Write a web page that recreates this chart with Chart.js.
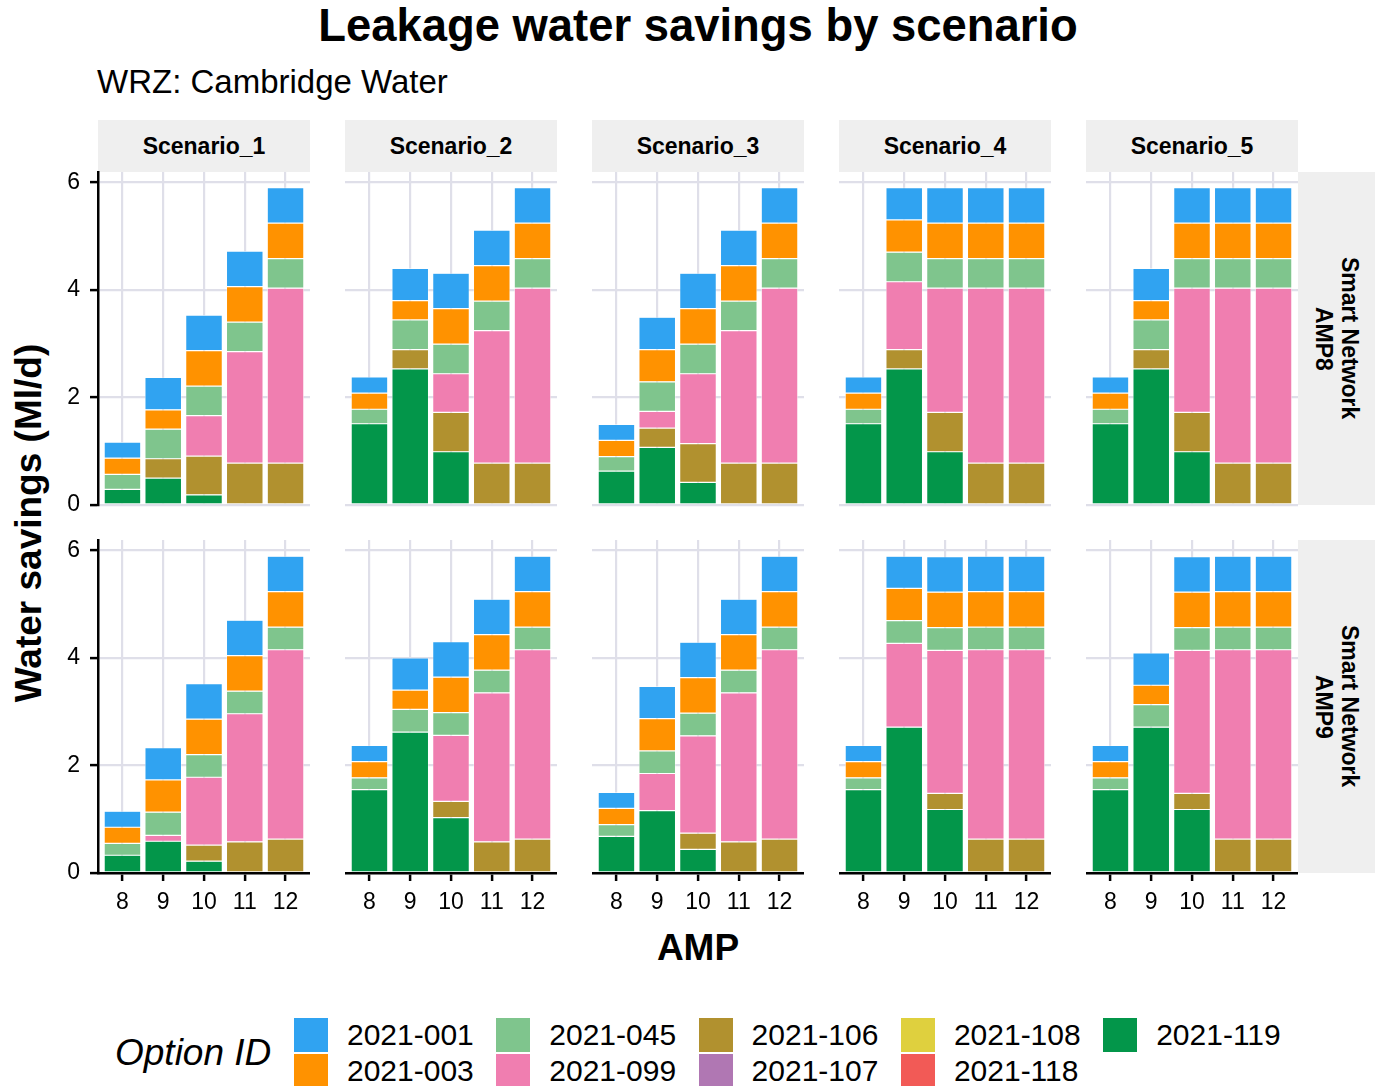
<!DOCTYPE html>
<html>
<head>
<meta charset="utf-8">
<title>Leakage water savings by scenario</title>
<script src="https://cdn.jsdelivr.net/npm/chart.js@4/dist/chart.umd.min.js"></script>
<style>
  html, body { margin: 0; padding: 0; background: #ffffff; }
  body { width: 1381px; height: 1086px; position: relative; overflow: hidden;
         font-family: "Liberation Sans", Arial, sans-serif; color: #000; }
  .abs { position: absolute; white-space: nowrap; }
  canvas { position: absolute; }
  .strip-top { position: absolute; background: #efefef; display: flex; align-items: center;
               justify-content: center; font-weight: bold; font-size: 23px; }
  .strip-right { position: absolute; background: #efefef; display: flex; align-items: center;
                 justify-content: center; font-weight: bold; font-size: 23px;
                 writing-mode: vertical-rl; text-align: center; line-height: 26px; }
  .key { position: absolute; width: 34px; height: 34px; }
  .key-label { position: absolute; font-size: 30px; line-height: 34px; }
</style>
</head>
<body>
<div id="root"></div>
<script>
// ---- data ----------------------------------------------------------------
const AMP = [8, 9, 10, 11, 12];
const Y_TICKS = [0, 2, 4, 6];
const SCENARIOS = ['Scenario_1', 'Scenario_2', 'Scenario_3', 'Scenario_4', 'Scenario_5'];
const NETWORKS = [['Smart Network', 'AMP8'], ['Smart Network', 'AMP9']];
const OPTION_IDS = ['2021-001', '2021-003', '2021-045', '2021-099', '2021-106',
                    '2021-107', '2021-108', '2021-118', '2021-119'];
const OPTION_COLORS = ['#30a3f1', '#ff9200', '#7fc58d', '#f07eb0', '#b1912f',
                       '#b077b3', '#dfd03e', '#f25a56', '#03964a'];

// Water savings (Ml/d): one row per scenario, one column per AMP (8..12)
// Smart Network AMP8
const AMP8_001 = [[0.30, 0.60, 0.66, 0.66, 0.66], [0.30, 0.60, 0.66, 0.66, 0.66], [0.30, 0.60, 0.66, 0.66, 0.66], [0.30, 0.60, 0.66, 0.66, 0.66], [0.30, 0.60, 0.66, 0.66, 0.66]];
const AMP8_003 = [[0.30, 0.36, 0.66, 0.66, 0.66], [0.30, 0.36, 0.66, 0.66, 0.66], [0.30, 0.60, 0.66, 0.66, 0.66], [0.30, 0.60, 0.66, 0.66, 0.66], [0.30, 0.36, 0.66, 0.66, 0.66]];
const AMP8_045 = [[0.28, 0.55, 0.55, 0.55, 0.55], [0.27, 0.55, 0.55, 0.55, 0.55], [0.27, 0.55, 0.55, 0.55, 0.55], [0.27, 0.55, 0.55, 0.55, 0.55], [0.27, 0.55, 0.55, 0.55, 0.55]];
const AMP8_099 = [[0, 0, 0.75, 2.07, 3.25], [0, 0, 0.72, 2.46, 3.25], [0, 0.31, 1.30, 2.46, 3.25], [0, 1.26, 2.31, 3.25, 3.25], [0, 0, 2.31, 3.25, 3.25]];
const AMP8_106 = [[0, 0.36, 0.72, 0.78, 0.78], [0, 0.36, 0.73, 0.78, 0.78], [0, 0.36, 0.72, 0.78, 0.78], [0, 0.36, 0.73, 0.78, 0.78], [0, 0.36, 0.73, 0.78, 0.78]];
const AMP8_107 = [[0, 0, 0, 0, 0], [0, 0, 0, 0, 0], [0, 0, 0, 0, 0], [0, 0, 0, 0, 0], [0, 0, 0, 0, 0]];
const AMP8_108 = [[0, 0, 0, 0, 0], [0, 0, 0, 0, 0], [0, 0, 0, 0, 0], [0, 0, 0, 0, 0], [0, 0, 0, 0, 0]];
const AMP8_118 = [[0, 0, 0, 0, 0], [0, 0, 0, 0, 0], [0, 0, 0, 0, 0], [0, 0, 0, 0, 0], [0, 0, 0, 0, 0]];
const AMP8_119 = [[0.29, 0.50, 0.19, 0, 0], [1.51, 2.53, 0.99, 0, 0], [0.63, 1.07, 0.42, 0, 0], [1.51, 2.53, 0.99, 0, 0], [1.51, 2.53, 0.99, 0, 0]];

// Smart Network AMP9
const AMP9_001 = [[0.30, 0.60, 0.66, 0.66, 0.66], [0.30, 0.60, 0.66, 0.66, 0.66], [0.30, 0.60, 0.66, 0.66, 0.66], [0.30, 0.60, 0.66, 0.66, 0.66], [0.30, 0.60, 0.66, 0.66, 0.66]];
const AMP9_003 = [[0.30, 0.60, 0.66, 0.66, 0.66], [0.30, 0.36, 0.66, 0.66, 0.66], [0.30, 0.60, 0.66, 0.66, 0.66], [0.30, 0.60, 0.66, 0.66, 0.66], [0.30, 0.36, 0.66, 0.66, 0.66]];
const AMP9_045 = [[0.22, 0.43, 0.42, 0.42, 0.42], [0.22, 0.42, 0.42, 0.42, 0.42], [0.22, 0.42, 0.42, 0.42, 0.42], [0.22, 0.42, 0.42, 0.42, 0.42], [0.22, 0.42, 0.42, 0.42, 0.42]];
const AMP9_099 = [[0, 0.11, 1.26, 2.38, 3.52], [0, 0, 1.23, 2.77, 3.52], [0, 0.69, 1.81, 2.77, 3.52], [0, 1.56, 2.66, 3.52, 3.52], [0, 0, 2.66, 3.52, 3.52]];
const AMP9_106 = [[0, 0, 0.30, 0.58, 0.63], [0, 0, 0.30, 0.58, 0.63], [0, 0, 0.30, 0.58, 0.63], [0, 0, 0.30, 0.61, 0.63], [0, 0, 0.30, 0.61, 0.63]];
const AMP9_107 = [[0, 0, 0, 0, 0], [0, 0, 0, 0, 0], [0, 0, 0, 0, 0], [0, 0, 0, 0, 0], [0, 0, 0, 0, 0]];
const AMP9_108 = [[0, 0, 0, 0, 0], [0, 0, 0, 0, 0], [0, 0, 0, 0, 0], [0, 0, 0, 0, 0], [0, 0, 0, 0, 0]];
const AMP9_118 = [[0, 0, 0, 0, 0], [0, 0, 0, 0, 0], [0, 0, 0, 0, 0], [0, 0, 0, 0, 0], [0, 0, 0, 0, 0]];
const AMP9_119 = [[0.33, 0.59, 0.22, 0, 0], [1.55, 2.62, 1.03, 0, 0], [0.68, 1.16, 0.44, 0, 0], [1.55, 2.71, 1.18, 0.02, 0], [1.55, 2.71, 1.18, 0.02, 0]];

// network row -> option id -> scenario rows
const SAVINGS = [
  { '2021-001': AMP8_001, '2021-003': AMP8_003, '2021-045': AMP8_045, '2021-099': AMP8_099, '2021-106': AMP8_106,
    '2021-107': AMP8_107, '2021-108': AMP8_108, '2021-118': AMP8_118, '2021-119': AMP8_119 },
  { '2021-001': AMP9_001, '2021-003': AMP9_003, '2021-045': AMP9_045, '2021-099': AMP9_099, '2021-106': AMP9_106,
    '2021-107': AMP9_107, '2021-108': AMP9_108, '2021-118': AMP9_118, '2021-119': AMP9_119 }
];

// ---- layout ----------------------------------------------------------------
const FONT = '"Liberation Sans", Arial, sans-serif';
const GRID = '#dfdfe9';
const PANEL_LEFT0 = 98, PANEL_STEP = 247, PANEL_W = 212, PANEL_H = 333;
const ROW_TOP = [172, 540];
const STRIP_TOP = 120, STRIP_H = 52, STRIP_W = 77;
const Y_AXIS_W = 58, X_AXIS_H = 46, PAD_TOP = 12, PAD_BOTTOM = 14;
const Y_MAX = 6.19;

const root = document.getElementById('root');
function addDiv(cls, style, html) {
  const d = document.createElement('div');
  if (cls) d.className = cls;
  Object.assign(d.style, style);
  d.innerHTML = html;
  root.appendChild(d);
  return d;
}

// titles
addDiv('abs', { left: '0px', width: '1396px', top: '3px', textAlign: 'center', fontWeight: 'bold',
  fontSize: '45.4px', lineHeight: '45px' }, 'Leakage water savings by scenario');
addDiv('abs', { left: '97px', top: '65px', fontSize: '33px', lineHeight: '33px' }, 'WRZ: Cambridge Water');
addDiv('abs', { left: '0px', width: '1396px', top: '929px', textAlign: 'center', fontWeight: 'bold',
  fontSize: '37px', lineHeight: '37px' }, 'AMP');
addDiv('abs', { left: '28px', top: '523px', fontWeight: 'bold', fontSize: '37px', lineHeight: '37px',
  transform: 'translate(-50%, -50%) rotate(-90deg)' }, 'Water savings (Ml/d)');

// facet strips
SCENARIOS.forEach((s, c) => {
  addDiv('strip-top', { left: (PANEL_LEFT0 + c * PANEL_STEP) + 'px', top: STRIP_TOP + 'px',
    width: PANEL_W + 'px', height: STRIP_H + 'px' }, s);
});
NETWORKS.forEach((n, r) => {
  addDiv('strip-right', { left: (PANEL_LEFT0 + 4 * PANEL_STEP + PANEL_W) + 'px', top: ROW_TOP[r] + 'px',
    width: STRIP_W + 'px', height: PANEL_H + 'px' }, n.join('<br>'));
});

// legend
addDiv('abs', { left: '115px', top: '1034px', fontStyle: 'italic', fontSize: '37px', lineHeight: '37px' }, 'Option ID');
OPTION_IDS.forEach((id, i) => {
  const col = Math.floor(i / 2), row = i % 2;
  const kx = 294 + col * 202.3, ky = 1018 + row * 36;
  addDiv('key', { left: kx + 'px', top: ky + 'px', background: OPTION_COLORS[i] }, '');
  addDiv('key-label', { left: (kx + 53) + 'px', top: ky + 'px' }, id);
});

// ---- panels -----------------------------------------------------------------
// stacking order: last option id at the bottom of each bar
const STACK_ORDER = OPTION_IDS.map((id, i) => i).reverse();

function makePanel(r, c) {
  const yAxis = c === 0, xAxis = r === 1;
  const axisW = yAxis ? Y_AXIS_W : 0, axisH = xAxis ? X_AXIS_H : 0;
  const padBottom = xAxis ? 0 : PAD_BOTTOM;
  const canvas = document.createElement('canvas');
  const w = PANEL_W + axisW, h = PANEL_H + PAD_TOP + axisH + padBottom;
  canvas.width = w; canvas.height = h;
  canvas.style.left = (PANEL_LEFT0 + c * PANEL_STEP - axisW) + 'px';
  canvas.style.top = (ROW_TOP[r] - PAD_TOP) + 'px';
  canvas.style.width = w + 'px'; canvas.style.height = h + 'px';
  root.appendChild(canvas);

  const datasets = STACK_ORDER.map(i => {
    const id = OPTION_IDS[i];
    const vals = SAVINGS[r][id][c];
    return {
      label: id,
      data: AMP.map((a, k) => ({ x: a, y: vals[k] })),
      backgroundColor: OPTION_COLORS[i],
      borderColor: '#ffffff',
      borderWidth: 0.6,
      borderSkipped: false,
      barPercentage: 0.9,
      categoryPercentage: 1.0
    };
  });

  new Chart(canvas, {
    type: 'bar',
    data: { datasets },
    options: {
      responsive: false,
      animation: false,
      devicePixelRatio: 1,
      layout: { padding: { top: PAD_TOP, left: 0, right: 0, bottom: padBottom } },
      plugins: { legend: { display: false }, tooltip: { enabled: false } },
      scales: {
        x: {
          type: 'linear', min: 7.4, max: 12.6, stacked: true, offset: false,
          afterBuildTicks: s => { s.ticks = AMP.map(v => ({ value: v })); },
          afterFit: s => { s.height = axisH; s.paddingLeft = 0; s.paddingRight = 0; },
          grid: { offset: false, color: GRID, lineWidth: 2.2, drawTicks: xAxis, tickLength: 8,
                  tickColor: '#000', tickWidth: 2.5 },
          border: { display: xAxis, color: '#000', width: 2.5 },
          ticks: { display: xAxis, color: '#000', font: { size: 23, family: FONT }, padding: 8,
                   autoSkip: false, maxRotation: 0, callback: v => String(v) }
        },
        y: {
          min: 0, max: Y_MAX, stacked: true,
          afterBuildTicks: s => { s.ticks = Y_TICKS.map(v => ({ value: v })); },
          afterFit: s => { s.width = axisW; s.paddingTop = 0; s.paddingBottom = 0; },
          grid: { offset: false, color: GRID, lineWidth: 2.2, drawTicks: yAxis, tickLength: 8,
                  tickColor: '#000', tickWidth: 2.5 },
          border: { display: yAxis, color: '#000', width: 2.5 },
          ticks: { display: yAxis, color: '#000', font: { size: 23, family: FONT }, padding: 10,
                   callback: v => String(v) }
        }
      }
    }
  });
}

for (let r = 0; r < 2; r++) {
  for (let c = 0; c < 5; c++) makePanel(r, c);
}
</script>
</body>
</html>
